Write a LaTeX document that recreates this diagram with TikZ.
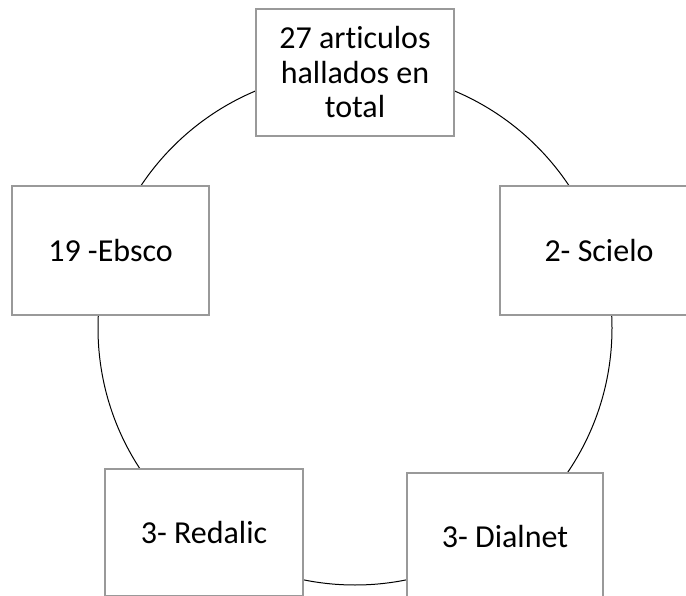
\documentclass[tikz,border=0pt]{standalone}
\usepackage{fontspec}
\setmainfont{Carlito}[Ligatures={NoCommon}]
\begin{document}
\begin{tikzpicture}[x=1pt,y=-1pt,
  box/.style={draw=black!40, line width=1.3pt, fill=white, rectangle, inner sep=0pt,
    minimum width=198pt, minimum height=127pt, align=center,
    font=\fontsize{32}{34.5}\selectfont},
  ring/.style={draw=black, line width=1pt, circle, inner sep=0pt, minimum size=514pt}]
\useasboundingbox (0,0) rectangle (686,596);
\node[ring] (c) at (355,328) {};
\node[box] (top) at (355,72.5) {27 articulos\\hallados en\\total};
\node[box, minimum width=197pt, minimum height=129pt] (ebsco) at (110.5,250.5) {19 -Ebsco};
\node[box, minimum height=129pt] (scielo) at (599,250.5) {2- Scielo};
\node[box] (redalic) at (204,532.5) {3- Redalic};
\node[box, minimum width=196pt] (dialnet) at (505,536.5) {3- Dialnet};
\end{tikzpicture}
\end{document}
